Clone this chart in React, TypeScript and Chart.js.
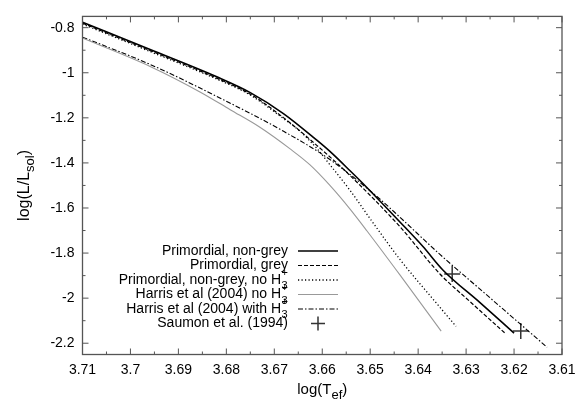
import React, { useEffect, useRef } from 'react';
import { Chart, registerables } from 'chart.js';

Chart.register(...registerables);

// ---------- data (log Teff, log L/Lsol) ----------
const nonGreyT = [3.71, 3.6959, 3.682, 3.6751, 3.6681, 3.6612, 3.6584, 3.6542, 3.6507, 3.6438, 3.639, 3.6348, 3.6271, 3.62];
const nonGreyL = [-0.776, -0.897, -1.018, -1.087, -1.181, -1.298, -1.349, -1.435, -1.509, -1.662, -1.771, -1.876, -2.02, -2.155];

const greyT = [3.71, 3.6959, 3.682, 3.6751, 3.6681, 3.6612, 3.6542, 3.6438, 3.6354, 3.6292, 3.6219];
const greyL = [-0.78, -0.902, -1.024, -1.094, -1.199, -1.321, -1.456, -1.683, -1.894, -2.015, -2.155];

const noH3T = [3.71, 3.6959, 3.682, 3.6751, 3.6681, 3.6646, 3.6612, 3.6584, 3.6542, 3.6494, 3.6438, 3.6354, 3.6321];
const noH3L = [-0.784, -0.906, -1.028, -1.098, -1.203, -1.26, -1.334, -1.408, -1.522, -1.666, -1.828, -2.042, -2.125];

const harrisNoT = [3.71, 3.6959, 3.6855, 3.6792, 3.673, 3.6667, 3.6626, 3.6584, 3.6542, 3.6507, 3.6438, 3.6352];
const harrisNoL = [-0.846, -0.972, -1.085, -1.164, -1.242, -1.338, -1.408, -1.5, -1.605, -1.701, -1.897, -2.146];

const harrisWithT = [3.71, 3.6959, 3.6792, 3.6688, 3.6584, 3.648, 3.6438, 3.6354, 3.6271, 3.6131];
const harrisWithL = [-0.842, -0.963, -1.135, -1.251, -1.385, -1.56, -1.641, -1.807, -1.96, -2.218];

const saumonT = [3.6329, 3.6186];
const saumonL = [-1.893, -2.146];

const xTicks = [3.71, 3.7, 3.69, 3.68, 3.67, 3.66, 3.65, 3.64, 3.63, 3.62, 3.61];
const xMinor = [3.705, 3.695, 3.685, 3.675, 3.665, 3.655, 3.645, 3.635, 3.625, 3.615];
const yTicks = [-0.8, -1, -1.2, -1.4, -1.6, -1.8, -2, -2.2];
const yMinor = [-0.9, -1.1, -1.3, -1.5, -1.7, -1.9, -2.1];

const legendLabels = [
  'Primordial, non-grey',
  'Primordial, grey',
  'Primordial, non-grey, no H_3^+',
  'Harris et al (2004) no H_3^+',
  'Harris et al (2004) with H_3^+',
  'Saumon et al. (1994)',
];

const FAMILY = '"Liberation Sans", Arial, Helvetica, sans-serif';
const fmt = (v: number) => String(parseFloat(v.toFixed(2)));

const framePlugin = {
  id: 'frameTicks',
  afterDatasetsDraw(chart: any) {
    const { ctx, chartArea: a, scales } = chart;
    const xs = scales.x;
    const ys = scales.y;
    ctx.save();
    ctx.strokeStyle = '#555';
    ctx.lineWidth = 1.3;
    ctx.setLineDash([]);
    ctx.strokeRect(a.left, a.top, a.right - a.left, a.bottom - a.top);
    const tick = (vals: number[], len: number) => {
      vals.forEach((v) => {
        const px = xs.getPixelForValue(v);
        ctx.beginPath();
        ctx.moveTo(px, a.bottom); ctx.lineTo(px, a.bottom - len);
        ctx.moveTo(px, a.top); ctx.lineTo(px, a.top + len);
        ctx.stroke();
      });
    };
    const tickY = (vals: number[], len: number) => {
      vals.forEach((v) => {
        const py = ys.getPixelForValue(v);
        ctx.beginPath();
        ctx.moveTo(a.left, py); ctx.lineTo(a.left + len, py);
        ctx.moveTo(a.right, py); ctx.lineTo(a.right - len, py);
        ctx.stroke();
      });
    };
    ctx.lineWidth = 1;
    tick(xTicks, 6);
    tick(xMinor, 3);
    tickY(yTicks, 6);
    tickY(yMinor, 3);
    ctx.restore();
  },
};

const legendPlugin = {
  id: 'gpLegend',
  afterDraw(chart: any) {
    const { ctx } = chart;
    const rightX = 288;
    const y0 = 251;
    const step = 14.5;
    ctx.save();
    ctx.fillStyle = '#000';
    ctx.textBaseline = 'middle';
    legendLabels.forEach((label, i) => {
      const y = y0 + i * step;
      const m = label.match(/^(.*)_(\S)\^(\S)$/);
      if (m) {
        ctx.font = `11px ${FAMILY}`;
        const sw = Math.max(ctx.measureText(m[2]).width, ctx.measureText(m[3]).width);
        ctx.textAlign = 'left';
        ctx.fillText(m[2], rightX - sw, y + 6);
        ctx.fillText(m[3], rightX - sw, y - 7);
        ctx.font = `14px ${FAMILY}`;
        ctx.textAlign = 'right';
        ctx.fillText(m[1], rightX - sw - 0.5, y);
      } else {
        ctx.font = `14px ${FAMILY}`;
        ctx.textAlign = 'right';
        ctx.fillText(label, rightX, y);
      }
      const ds = chart.data.datasets[i];
      ctx.strokeStyle = ds.borderColor;
      ctx.lineWidth = ds.borderWidth;
      if (ds.showLine) {
        ctx.setLineDash(ds.borderDash || []);
        ctx.beginPath();
        ctx.moveTo(298, y);
        ctx.lineTo(338, y);
        ctx.stroke();
      } else {
        ctx.setLineDash([]);
        const r = 7;
        ctx.beginPath();
        ctx.moveTo(318 - r, y); ctx.lineTo(318 + r, y);
        ctx.moveTo(318, y - r); ctx.lineTo(318, y + r);
        ctx.stroke();
      }
    });
    ctx.restore();
  },
};

const titlePlugin = {
  id: 'gpTitles',
  afterDraw(chart: any) {
    const { ctx, chartArea: a } = chart;
    ctx.save();
    ctx.fillStyle = '#000';
    ctx.textBaseline = 'alphabetic';
    ctx.textAlign = 'left';
    const drawSub = (pre: string, sub: string, post: string, cx: number, base: number, main: number, small: number) => {
      ctx.font = `${main}px ${FAMILY}`;
      const w1 = ctx.measureText(pre).width;
      const w3 = ctx.measureText(post).width;
      ctx.font = `${small}px ${FAMILY}`;
      const w2 = ctx.measureText(sub).width;
      let x = cx - (w1 + w2 + w3) / 2;
      ctx.font = `${main}px ${FAMILY}`;
      ctx.fillText(pre, x, base);
      x += w1;
      ctx.font = `${small}px ${FAMILY}`;
      ctx.fillText(sub, x, base + 5);
      x += w2;
      ctx.font = `${main}px ${FAMILY}`;
      ctx.fillText(post, x, base);
    };
    // x title
    drawSub('log(T', 'ef', ')', (a.left + a.right) / 2, 394, 15, 13);
    // y title
    ctx.translate(28.5, (a.top + a.bottom) / 2);
    ctx.rotate(-Math.PI / 2);
    drawSub('log(L/L', 'sol', ')', 0, 0, 16, 13);
    ctx.restore();
  },
};

export default function App() {
  const ref = useRef<HTMLCanvasElement>(null);

  useEffect(() => {
    if (!ref.current) return;
    const pts = (xs: number[], ys: number[]) => xs.map((x, i) => ({ x, y: ys[i] }));
    const line = (label: string, xs: number[], ys: number[], color: string, width: number, dash: number[]) => ({
      label,
      data: pts(xs, ys),
      showLine: true,
      borderColor: color,
      backgroundColor: color,
      borderWidth: width,
      borderDash: dash,
      pointRadius: 0,
      cubicInterpolationMode: 'monotone',
      fill: false,
    });
    const datasets: any[] = [
      line('Primordial, non-grey', nonGreyT, nonGreyL, '#000', 1.6, []),
      line('Primordial, grey', greyT, greyL, '#000', 1.2, [4, 2]),
      line('Primordial, non-grey, no H3+', noH3T, noH3L, '#000', 1.3, [1.2, 2.3]),
      line('Harris et al (2004) no H3+', harrisNoT, harrisNoL, '#999', 1.1, []),
      line('Harris et al (2004) with H3+', harrisWithT, harrisWithL, '#000', 1.1, [5, 2, 1.5, 2]),
      {
        label: 'Saumon et al. (1994)',
        data: pts(saumonT, saumonL),
        showLine: false,
        pointStyle: 'cross',
        pointRadius: 8,
        borderColor: '#333',
        backgroundColor: '#333',
        borderWidth: 1.5,
      },
    ];
    const chart = new Chart(ref.current, {
      type: 'scatter',
      data: { datasets },
      options: {
        animation: false,
        responsive: false,
        events: [],
        layout: { padding: { top: 11, right: 23, left: 0, bottom: 0 } },
        plugins: { legend: { display: false }, tooltip: { enabled: false } },
        scales: {
          x: {
            type: 'linear',
            reverse: true,
            min: 3.61,
            max: 3.71,
            grid: { display: false, drawTicks: false },
            border: { display: false },
            afterBuildTicks: (s: any) => { s.ticks = xTicks.map((v) => ({ value: v })); },
            afterFit: (s: any) => { s.height = 47.5; },
            ticks: {
              autoSkip: false,
              maxRotation: 0,
              minRotation: 0,
              padding: 7,
              color: '#000',
              font: { family: FAMILY, size: 14 },
              callback: (v: any) => fmt(Number(v)),
            },
          },
          y: {
            type: 'linear',
            min: -2.25,
            max: -0.75,
            grid: { display: false, drawTicks: false },
            border: { display: false },
            afterBuildTicks: (s: any) => { s.ticks = yTicks.map((v) => ({ value: v })); },
            afterFit: (s: any) => { s.width = 82.5; },
            ticks: {
              autoSkip: false,
              padding: 8,
              color: '#000',
              font: { family: FAMILY, size: 14 },
              callback: (v: any) => fmt(Number(v)),
            },
          },
        },
      } as any,
      plugins: [framePlugin, legendPlugin, titlePlugin],
    });
    return () => chart.destroy();
  }, []);

  return (
    <canvas
      ref={ref}
      width={585}
      height={402}
      style={{ position: 'fixed', left: 0, top: 0, width: 585, height: 402, background: '#fff' }}
    />
  );
}
